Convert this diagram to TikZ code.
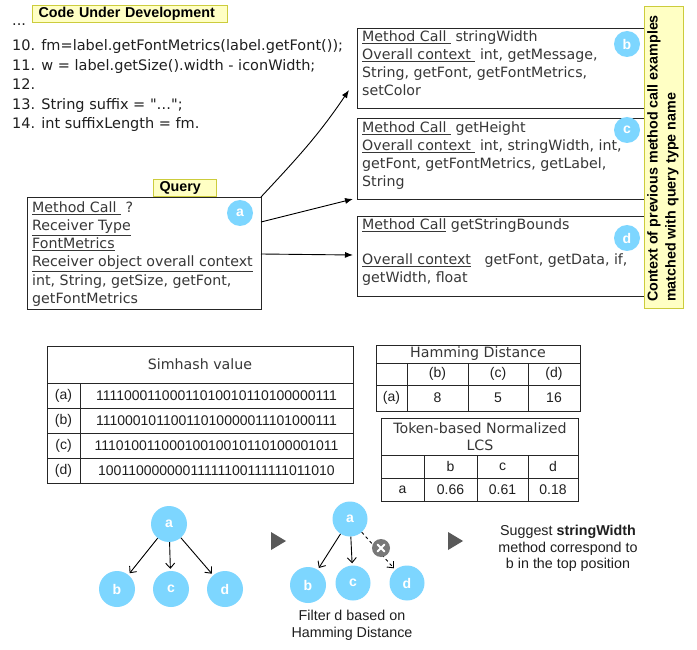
\documentclass[tikz,border=0pt]{standalone}
\usepackage{fontspec}
\setmainfont{DejaVu Sans}[Ligatures=TeXOff]
\newfontfamily\arial{Liberation Sans}
\usetikzlibrary{arrows.meta}
\definecolor{cyanc}{RGB}{125,214,255}
\definecolor{yfill}{RGB}{255,255,196}
\definecolor{yedge}{RGB}{204,204,60}
\definecolor{txt}{RGB}{55,55,55}
\definecolor{tri}{RGB}{89,89,89}
\definecolor{xgray}{RGB}{120,120,120}
\tikzset{
  vt/.style={font=\fontsize{14.2}{18}\selectfont, text=txt, inner sep=0pt, anchor=base west},
  ct/.style={font=\fontsize{14.5}{18}\selectfont, text=black!88, inner sep=0pt, anchor=base west},
  ylab/.style={draw=yedge, fill=yfill, line width=1pt, font=\arial\bfseries\fontsize{14.3}{16}\selectfont,
               inner ysep=0pt, inner xsep=6pt, minimum height=17pt, align=left},
  cbox/.style={draw=black!85, line width=1pt, anchor=north west, inner sep=0pt},
  badge/.style={circle, fill=cyanc, text=white, inner sep=0pt, minimum size=26pt,
                font=\arial\bfseries\fontsize{14}{14}\selectfont},
  gnode/.style={circle, fill=cyanc, text=white, inner sep=0pt, minimum size=36pt,
                font=\arial\bfseries\fontsize{14}{14}\selectfont},
  tline/.style={draw=black!85, line width=0.9pt},
  tv/.style={font=\fontsize{14.2}{17}\selectfont, text=txt, inner sep=0pt},
  ta/.style={font=\arial\fontsize{14}{17}\selectfont, text=black!88, inner sep=0pt},
  bin/.style={font=\arial\fontsize{14}{17}\selectfont, text=black!88, inner sep=0pt},
  barrow/.style={line width=0.9pt, -{Latex[length=8pt,width=6pt]}},
  garrow/.style={line width=0.9pt, -{Straight Barb[length=5pt,width=9pt]}, shorten >=2pt},
  tritip/.style={fill=tri, draw=none},
}
\begin{document}
\begin{tikzpicture}[x=1pt,y=-1pt]
\useasboundingbox (0,0) rectangle (697,650);
\fill[white] (0,0) rectangle (697,650);

% ---- code under development ----
\node[ylab, text width=183pt, anchor=north west] (cud) at (32,5) {Code Under Development};
\node[ct] (c0) at (12,26) {...};
\node[ct] (c1) at (12,51) {10. fm=label.getFontMetrics(label.getFont());};
\node[ct] (c2) at (12,71) {11. w = label.getSize().width - iconWidth;};
\node[ct] (c3) at (12,90) {12.};
\node[ct] (c4) at (12,109.5) {13. String suffix = "\char"2026";};
\node[ct] (c5) at (12,129) {14. int suffixLength = fm.};

% ---- query ----
\node[ylab, text width=51pt, anchor=north west] (qlab) at (153,179) {Query};
\node[cbox, minimum width=234pt, minimum height=112pt] (q) at (27,197) {};
\node[vt] (q1) at (32,213) {\underline{Method Call\ }\ ?};
\node[vt] (q2) at (32,231) {\underline{Receiver Type}};
\node[vt] (q3) at (32,249) {\underline{FontMetrics}};
\node[vt] (q4) at (32,267) {\underline{Receiver object overall context}};
\node[vt] (q5) at (32,285) {int, String, getSize, getFont,};
\node[vt] (q6) at (32,303) {getFontMetrics};
\node[badge] (ba) at (240,213) {a};

% ---- candidate boxes ----
\node[cbox, minimum width=288pt, minimum height=80pt] (bb) at (357,28) {};
\node[vt] (b1) at (362,42) {\underline{Method Call\ }\ stringWidth};
\node[vt] (b2) at (362,60) {\underline{Overall context\ }\ int, getMessage,};
\node[vt] (b3) at (362,78) {String, getFont, getFontMetrics,};
\node[vt] (b4) at (362,96) {setColor};
\node[badge] (bbb) at (627,44) {b};

\node[cbox, minimum width=288pt, minimum height=81pt] (cc) at (357,118) {};
\node[vt] (cc1) at (362,133) {\underline{Method Call\ }\ getHeight};
\node[vt] (cc2) at (362,151) {\underline{Overall context\ }\ int, stringWidth, int,};
\node[vt] (cc3) at (362,169) {getFont, getFontMetrics, getLabel,};
\node[vt] (cc4) at (362,187) {String};
\node[badge] (bcc) at (627,130) {c};

\node[cbox, minimum width=288pt, minimum height=80pt] (dd) at (357,216) {};
\node[vt] (d1) at (362,230) {\underline{Method Call}\ getStringBounds};
\node[vt] (d2) at (362,265) {\underline{Overall context}\ \ \ getFont, getData, if,};
\node[vt] (d3) at (362,283) {getWidth, float};
\node[badge] (bdd) at (627,238) {d};

% vertical yellow label
\node[draw=yedge, fill=yfill, line width=1pt, minimum width=39pt, minimum height=301pt, inner sep=0pt] (ctxbox) at (663.5,157.5) {};
\node[rotate=90, align=left, font=\arial\bfseries\fontsize{14.3}{18}\selectfont, inner sep=0pt] (ctx) at (663,158.5)
  {Context of previous method call examples\\matched with query type name};

% arrows from query
\coordinate (e1) at (349,90);
\coordinate (e2) at (353,199);
\coordinate (e3) at (353,255);
\coordinate (s1) at (261,197);
\coordinate (s2) at (261,222);
\coordinate (s3) at (261,254);
\draw[barrow] (s1) to[out=47,in=236] (e1);
\draw[barrow] (s2) -- (e2);
\draw[barrow] (s3) -- (e3);

% ---- simhash table ----
\draw[tline] (47,346) rectangle (353,483);
\draw[tline] (47,383) -- (353,383);
\draw[tline] (47,408) -- (353,408);
\draw[tline] (47,433) -- (353,433);
\draw[tline] (47,458) -- (353,458);
\draw[tline] (80,383) -- (80,483);
\node[tv] (sh) at (200,364) {Simhash value};
\node[ta] (sa) at (63.5,396) {(a)};
\node[ta] (sb) at (63.5,421) {(b)};
\node[ta] (sc) at (63.5,446) {(c)};
\node[ta] (sd) at (63.5,471) {(d)};
\node[bin] (va) at (216.5,396) {11110001100011010010110100000111};
\node[bin] (vb) at (216.5,421) {11100010110011010000011101000111};
\node[bin] (vc) at (216.5,446) {11101001100010010010110100001011};
\node[bin] (vd) at (216.5,471) {10011000000011111100111111011010};

% ---- hamming table ----
\draw[tline] (376,345) rectangle (580,411);
\draw[tline] (376,363) -- (580,363);
\draw[tline] (376,385) -- (580,385);
\draw[tline] (407,363) -- (407,411);
\draw[tline] (468,363) -- (468,411);
\draw[tline] (528,363) -- (528,411);
\node[tv] (hh) at (478,354) {Hamming Distance};
\node[ta] (hb) at (437.5,374) {(b)};
\node[ta] (hc) at (498,374) {(c)};
\node[ta] (hd) at (554,374) {(d)};
\node[ta] (ha) at (391.5,398) {(a)};
\node[ta] (h8) at (437.5,398) {8};
\node[ta] (h5) at (498,398) {5};
\node[ta] (h16) at (554,398) {16};

% ---- LCS table ----
\draw[tline] (381,418) rectangle (578,501);
\draw[tline] (381,455) -- (578,455);
\draw[tline] (381,478) -- (578,478);
\draw[tline] (424,455) -- (424,501);
\draw[tline] (477,455) -- (477,501);
\draw[tline] (528,455) -- (528,501);
\node[tv, align=center] (lh) at (480,436.5) {Token-based Normalized\\LCS};
\node[ta] (lb) at (450.5,466.5) {b};
\node[ta] (lc) at (502.5,466.5) {c};
\node[ta] (ld) at (553,466.5) {d};
\node[ta] (la) at (402.5,490) {a};
\node[ta] (l1) at (450.5,490) {0.66};
\node[ta] (l2) at (502.5,490) {0.61};
\node[ta] (l3) at (553,490) {0.18};

% ---- graph 1 ----
\node[gnode] (g1a) at (169,524) {a};
\node[gnode] (g1b) at (117,589) {b};
\node[gnode] (g1c) at (171,589) {c};
\node[gnode] (g1d) at (225,589) {d};
\draw[garrow] (g1a) -- (g1b);
\draw[garrow] (g1a) -- (g1c);
\draw[garrow] (g1a) -- (g1d);

\fill[tritip] (271,532) -- (271,550) -- (286,541) -- cycle;

% ---- graph 2 ----
\node[gnode, minimum size=35pt] (g2a) at (350,519) {a};
\node[gnode] (g2b) at (308,585) {b};
\node[gnode, minimum size=35pt] (g2c) at (353,583) {c};
\node[gnode, minimum size=35pt] (g2d) at (407,583) {d};
\draw[garrow] (g2a) -- (g2b);
\draw[garrow] (g2a) -- (g2c);
\draw[garrow, dashed] (g2a) -- (g2d);
\node[circle, fill=xgray, minimum size=18pt, inner sep=0pt] (xx) at (381,548) {};
\draw[white, line width=1.8pt, line cap=round] ([shift={(-3.5,-3.5)}]xx.center) -- ([shift={(3.5,3.5)}]xx.center);
\draw[white, line width=1.8pt, line cap=round] ([shift={(-3.5,3.5)}]xx.center) -- ([shift={(3.5,-3.5)}]xx.center);
\node[ta, align=center, font=\arial\fontsize{14.3}{17}\selectfont] (filt) at (352,625.5) {Filter d based on\\Hamming Distance};

\fill[tritip] (448,532) -- (448,550) -- (463,541) -- cycle;

\node[ta, align=center, font=\arial\fontsize{14.3}{16.5}\selectfont] (sug) at (568,548.5)
  {Suggest \textbf{stringWidth}\\method correspond to\\b in the top position};
\end{tikzpicture}
\end{document}
